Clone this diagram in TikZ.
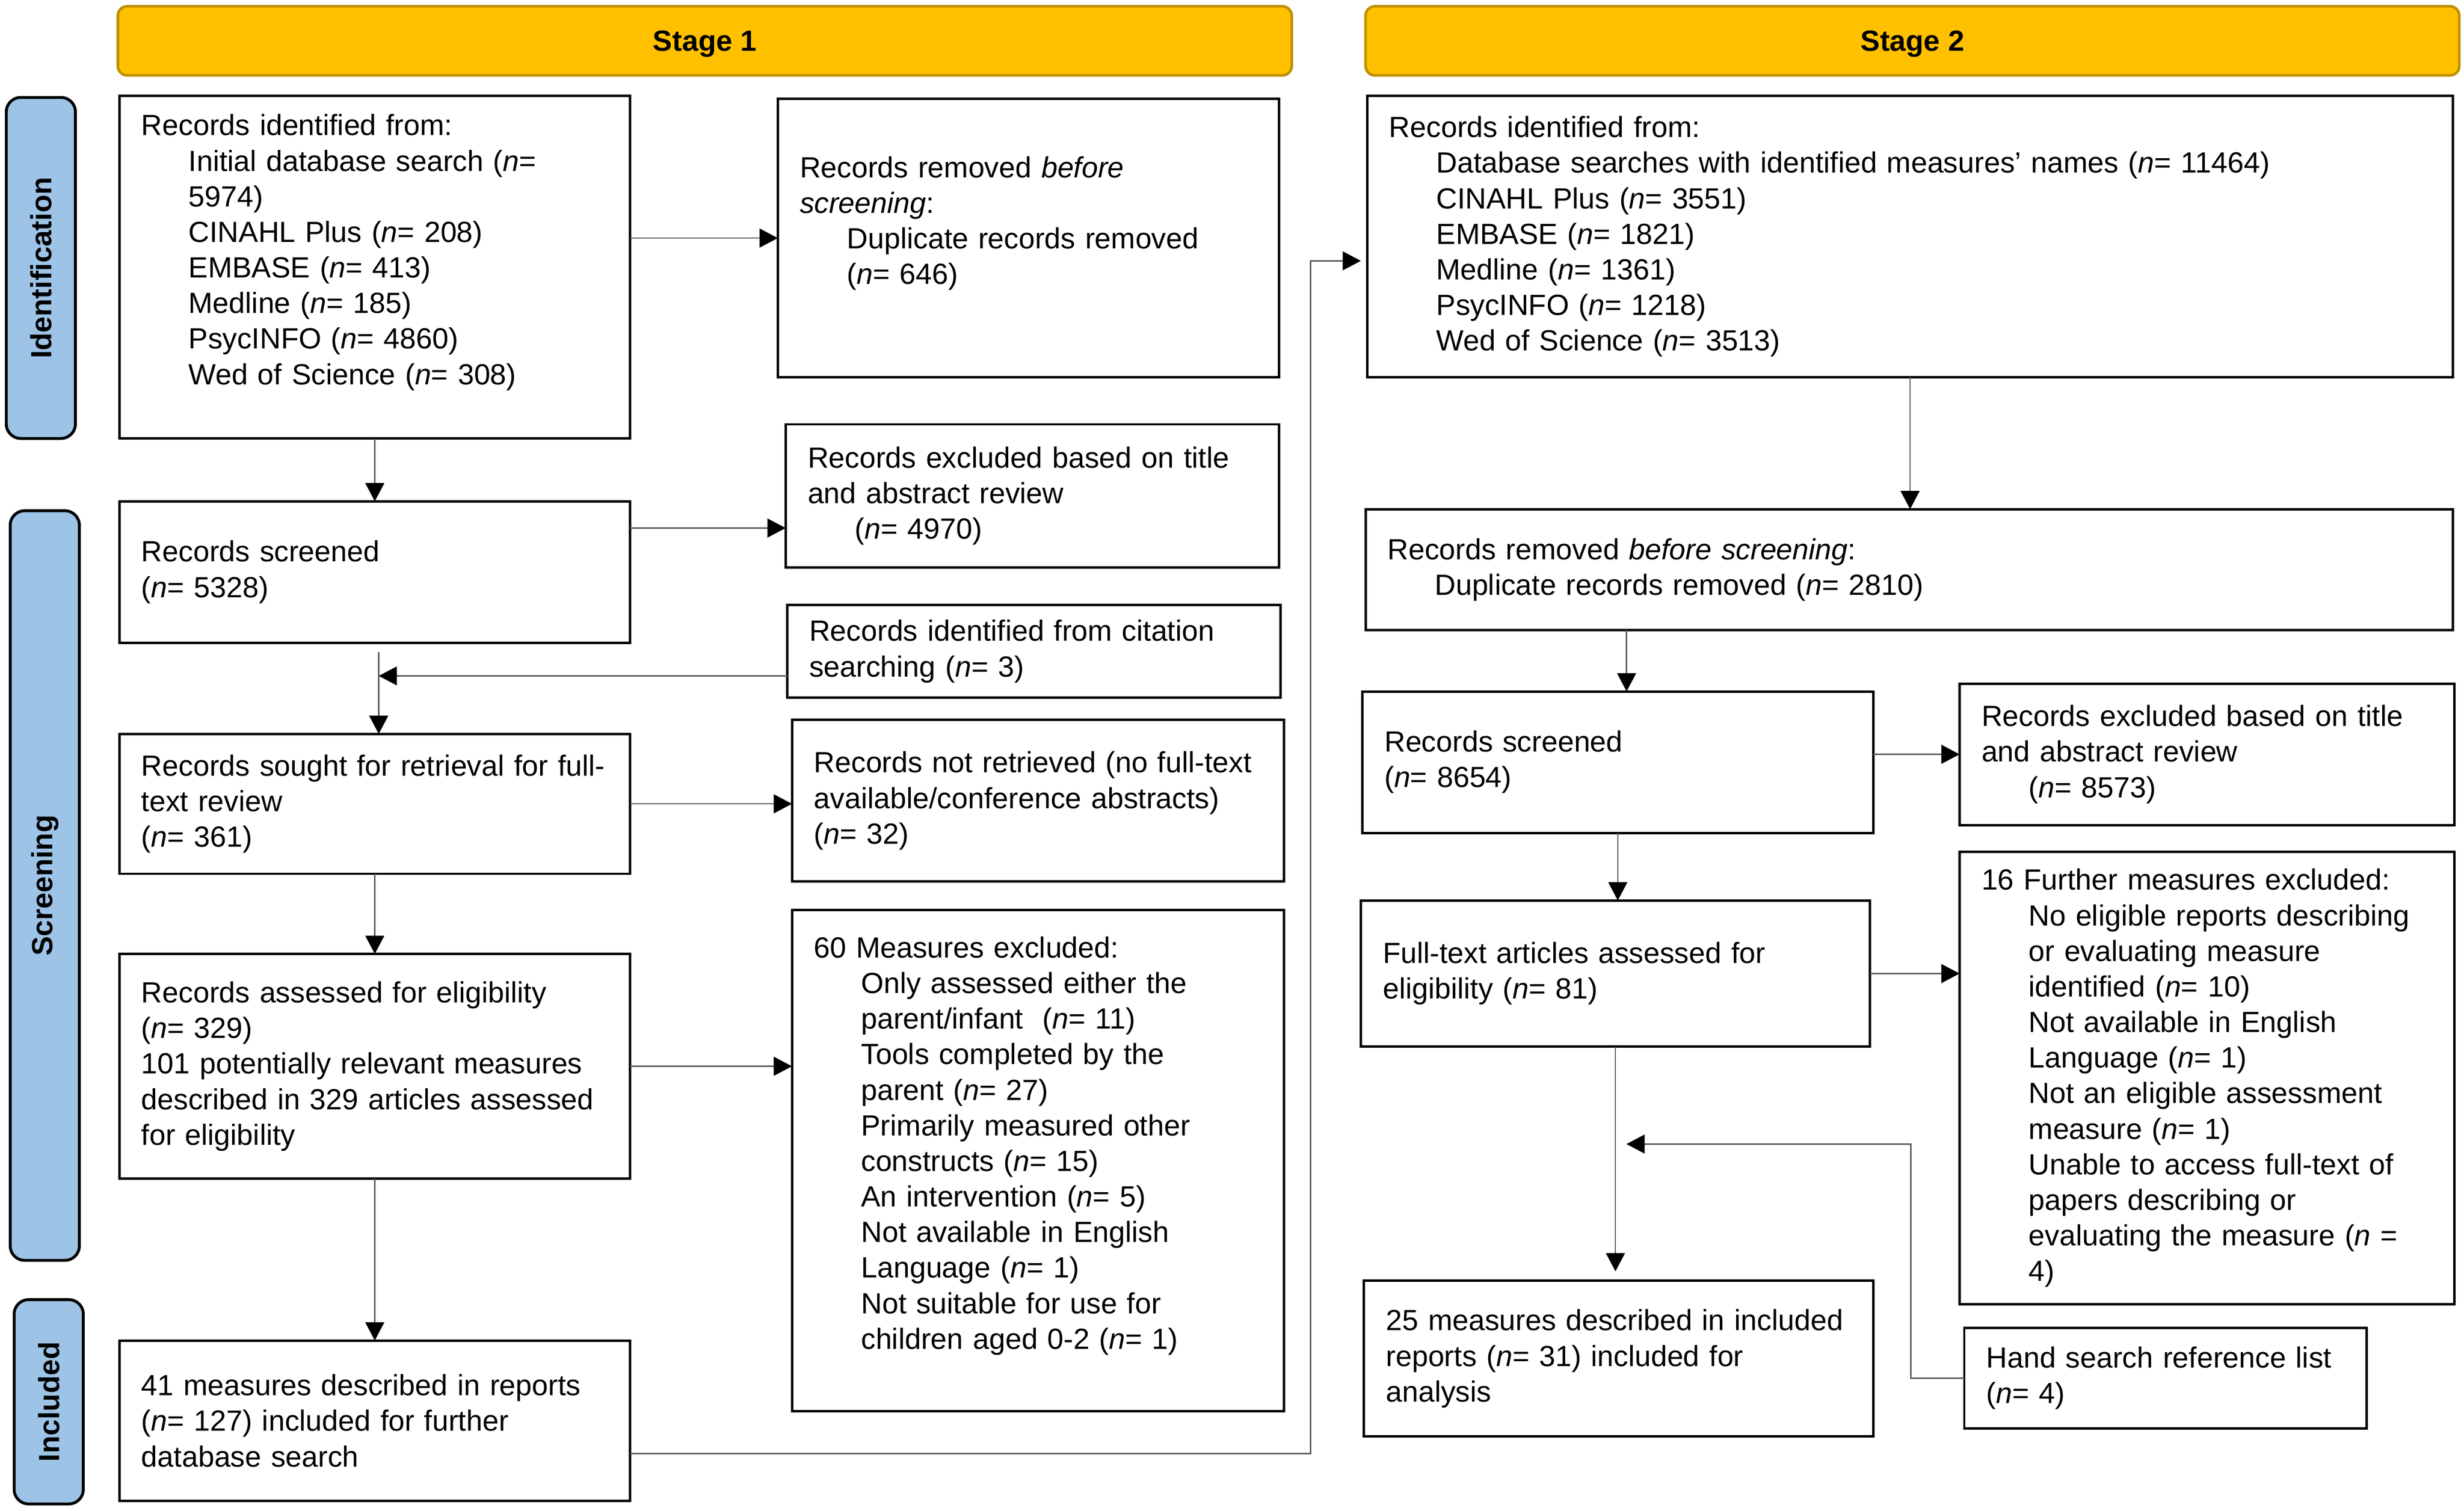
\documentclass[tikz,border=0pt]{standalone}
\usepackage{fontspec}
\setmainfont{Liberation Sans}
\usetikzlibrary{positioning, arrows.meta}

\definecolor{stagefill}{HTML}{FFC000}
\definecolor{stageedge}{HTML}{BF9000}
\definecolor{phasefill}{HTML}{9DC3E6}
\newcommand{\itemind}{\hspace*{7.5mm}}

\begin{document}
\begin{tikzpicture}[x=0.25mm, y=-0.25mm,
    box/.style={draw, line width=1.1pt, align=left, anchor=north west, inner xsep=3.5mm, inner ysep=0pt, outer sep=0pt, font=\fontsize{13.2}{16.1}\selectfont},
    stage/.style={draw=stageedge, fill=stagefill, line width=1.2pt, rounded corners=1.5mm, minimum height=11mm, text depth=0pt, font=\bfseries\fontsize{13.2}{16.1}\selectfont},
    phase/.style={draw=black, fill=phasefill, line width=1.3pt, rounded corners=2.3mm, rotate=90, minimum height=11mm, font=\bfseries\fontsize{13.2}{16.1}\selectfont},
    arr/.style={draw=black!65, line width=0.6pt, -{Triangle[length=2.9mm, width=3mm, color=black]}}]
            \useasboundingbox (0,0) rectangle (1568,961.3);

            % Stage banners and phases
            \node[stage, minimum width=186.75mm] (st1) at (448.5,26) {Stage 1};
            \node[stage, minimum width=174mm] (st2) at (1217,26) {Stage 2};
            \node[phase, minimum width=54.25mm] (id) at (26,170.5) {Identification};
            \node[phase, minimum width=119.25mm] (sc) at (28.5,563.5) {Screening};
            \node[phase, minimum width=32.5mm] (inc) at (31,892) {Included};

            % Stage 1
            \node[box, text width=74.25mm, minimum height=54.5mm] (1) at (76,61) {Records identified from:\\
                \itemind Initial database search (\textit{n}=\\
                \itemind 5974)\\
                \itemind CINAHL Plus (\textit{n}= 208)\\
                \itemind EMBASE (\textit{n}= 413)\\
                \itemind Medline (\textit{n}= 185)\\
                \itemind PsycINFO (\textit{n}= 4860)\\
                \itemind Wed of Science (\textit{n}= 308)\\ \mbox{}};
            \node[box, text width=74.25mm, minimum height=22.5mm] (2) at (76,319) {Records screened\\(\textit{n}= 5328)};
            \node[box, text width=74.25mm, minimum height=22.25mm] (3) at (76,467) {Records sought for retrieval for full-\\text review\\(\textit{n}= 361)};
            \node[box, text width=74.25mm, minimum height=35.75mm] (4) at (76,607) {Records assessed for eligibility\\(\textit{n}= 329)\\101 potentially relevant measures\\described in 329 articles assessed\\for eligibility};
            \node[box, text width=74.25mm, minimum height=25.5mm] (5) at (76,853) {41 measures described in reports\\(\textit{n}= 127) included for further\\database search};

            \node[box, text width=72.75mm, minimum height=44.25mm] (6) at (495,63) {Records removed \textit{before}\\\textit{screening}:\\
                \itemind Duplicate records removed\\
                \itemind (\textit{n}= 646)\\ \mbox{}};
            \node[box, text width=71.5mm, minimum height=22.75mm] (7) at (500,270) {Records excluded based on title\\and abstract review\\\itemind (\textit{n}= 4970)};
            \node[box, text width=71.5mm, minimum height=14.75mm] (8) at (501,385) {Records identified from citation\\searching (\textit{n}= 3)};
            \node[box, text width=71.25mm, minimum height=25.75mm] (9) at (504,458) {Records not retrieved (no full-text\\available/conference abstracts)\\(\textit{n}= 32)};
            \node[box, text width=71.25mm, minimum height=79.75mm] (10) at (504,579) {60 Measures excluded:\\
                \itemind Only assessed either the\\
                \itemind parent/infant\ \ (\textit{n}= 11)\\
                \itemind Tools completed by the\\
                \itemind parent (\textit{n}= 27)\\
                \itemind Primarily measured other\\
                \itemind constructs (\textit{n}= 15)\\
                \itemind An intervention (\textit{n}= 5)\\
                \itemind Not available in English\\
                \itemind Language (\textit{n}= 1)\\
                \itemind Not suitable for use for\\
                \itemind children aged 0-2 (\textit{n}= 1)\\ \mbox{}};

            % Stage 2
            \node[box, text width=165.75mm, minimum height=44.75mm] (11) at (870,61) {Records identified from:\\
                \itemind Database searches with identified measures' names (\textit{n}= 11464)\\
                \itemind CINAHL Plus (\textit{n}= 3551)\\
                \itemind EMBASE (\textit{n}= 1821)\\
                \itemind Medline (\textit{n}= 1361)\\
                \itemind PsycINFO (\textit{n}= 1218)\\
                \itemind Wed of Science (\textit{n}= 3513)};
            \node[box, text width=166mm, minimum height=19.25mm] (12) at (869,324) {Records removed \textit{before screening}:\\\itemind Duplicate records removed (\textit{n}= 2810)};
            \node[box, text width=74.25mm, minimum height=22.5mm] (13) at (867,440) {Records screened\\(\textit{n}= 8654)};
            \node[box, text width=71.75mm, minimum height=22.5mm] (14) at (1247,435) {Records excluded based on title\\and abstract review\\\itemind (\textit{n}= 8573)};
            \node[box, text width=74mm, minimum height=23.25mm] (15) at (866,573) {Full-text articles assessed for\\eligibility (\textit{n}= 81)};
            \node[box, text width=71.75mm, minimum height=72mm] (16) at (1247,542) {16 Further measures excluded:\\
                \itemind No eligible reports describing\\
                \itemind or evaluating measure\\
                \itemind identified (\textit{n}= 10)\\
                \itemind Not available in English\\
                \itemind Language (\textit{n}= 1)\\
                \itemind Not an eligible assessment\\
                \itemind measure (\textit{n}= 1)\\
                \itemind Unable to access full-text of\\
                \itemind papers describing or\\
                \itemind evaluating the measure (\textit{n} =\\
                \itemind 4)};
            \node[box, text width=74mm, minimum height=24.75mm] (17) at (868,815) {25 measures described in included\\reports (\textit{n}= 31) included for\\analysis};
            \node[box, text width=57mm, minimum height=16mm] (18) at (1250,845) {Hand search reference list\\(\textit{n}= 4)};

            % Draw edges
            \coordinate (j) at (241,415);
            \coordinate (k) at (834,166);
            \coordinate (h) at (1216,728);
            \coordinate (g) at (1035,728);

            \draw[arr] (1.east |- 6.west) -- (6.west);
            \draw[arr] (1) -- (2);
            \draw[arr] ([yshift=7mm]2.east) -- ([yshift=7mm]2.east -| 7.west);
            \draw[arr] ([yshift=-3.9mm]8.west) -- ([yshift=-3.9mm]8.west -| j);
            \draw[arr] (j) -- (j |- 3.north);
            \draw[arr] (3.east) -- (3.east -| 9.west);
            \draw[arr] (3) -- (4);
            \draw[arr] (4.east) -- (4.east -| 10.west);
            \draw[arr] (4) -- (5);
            \draw[arr, shorten >=1mm] ([yshift=-5.25mm]5.east) -| (k) -- (k -| 11.west);

            \draw[arr] (11.south) -- (11.south |- 12.north);
            \draw[arr] ([xshift=1.4mm]13.north |- 12.south) -- ([xshift=1.4mm]13.north);
            \draw[arr] (13.east |- 14.west) -- (14.west);
            \draw[arr] (13.south) -- (13.south |- 15.north);
            \draw[arr] (15.east) -- (15.east -| 16.west);
            \draw[arr, shorten >=1.5mm] (15.south) -- (15.south |- 17.north);
            \draw[arr] (18.west) -| (h) -- (g);
        \end{tikzpicture}
\end{document}
